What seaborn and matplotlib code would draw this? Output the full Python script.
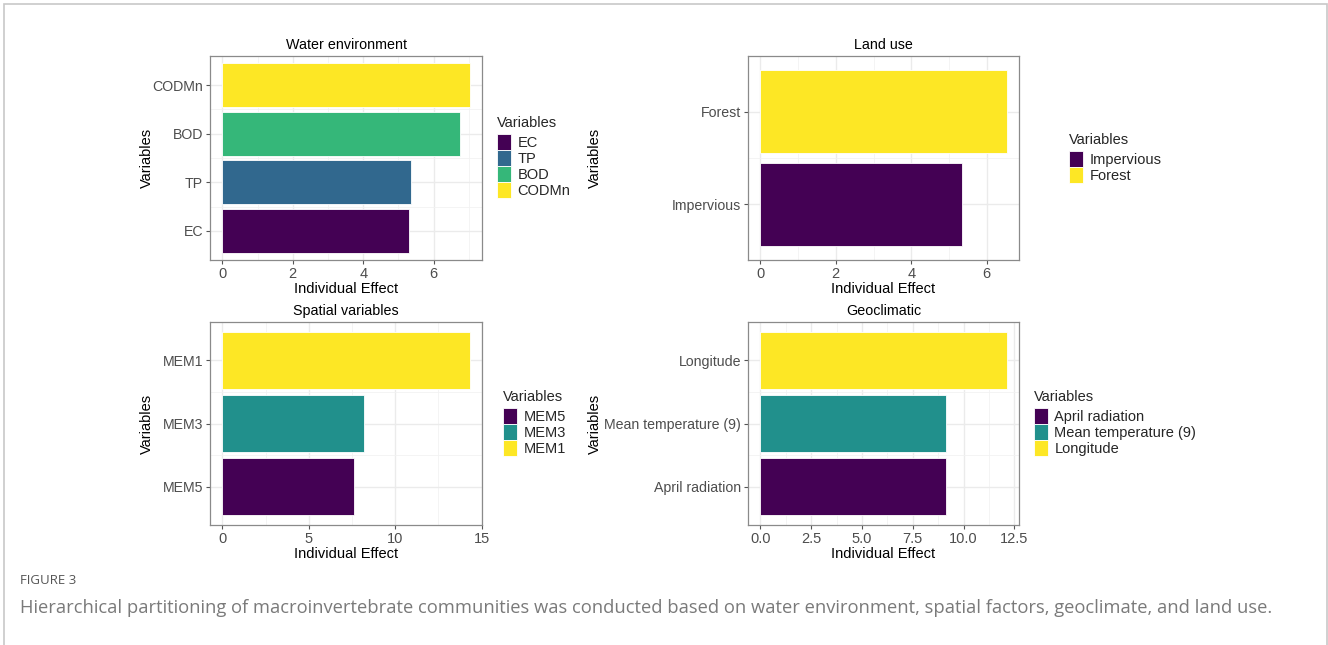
import numpy as np
import pandas as pd
import seaborn as sns
import matplotlib
matplotlib.use("Agg")
import matplotlib.pyplot as plt
from matplotlib.patches import Patch, Rectangle
from matplotlib.ticker import MultipleLocator, FormatStrFormatter

# Individual effects from hierarchical partitioning (legend order = factor order)
water_vars = ["EC", "TP", "BOD", "CODMn"]
water_effect = [5.29, 5.35, 6.74, 7.02]

land_vars = ["Impervious", "Forest"]
land_effect = [5.34, 6.53]

spatial_vars = ["MEM5", "MEM3", "MEM1"]
spatial_effect = [7.62, 8.19, 14.31]

geo_vars = ["April radiation", "Mean temperature (9)", "Longitude"]
geo_effect = [9.12, 9.15, 12.12]

VIRIDIS = {
    2: ["#440154", "#FDE725"],
    3: ["#440154", "#21908C", "#FDE725"],
    4: ["#440154", "#31688E", "#35B779", "#FDE725"],
}

sns.set_theme(style="white")
plt.rcParams["font.family"] = ["Liberation Sans", "DejaVu Sans"]

W, H = 1328, 645
fig = plt.figure(figsize=(W / 100, H / 100), dpi=100)

# Outer light frame
fig.patches.append(Rectangle((4 / W, -0.1), (1323 / W), (641 / H) + 0.1,
                             transform=fig.transFigure, fill=False,
                             edgecolor="#c8c8c8", linewidth=1.2))


def px_axes(left, top, right, bottom):
    return fig.add_axes([left / W, 1 - bottom / H, (right - left) / W, (bottom - top) / H])


def panel(ax, names, values, title, major, minor, fmt, ylab_x, leg_anchor):
    df = pd.DataFrame({"Variables": names, "Effect": values})
    colors = VIRIDIS[len(names)]
    pal = dict(zip(names, colors))
    sns.barplot(data=df, x="Effect", y="Variables", hue="Variables",
                order=names[::-1], hue_order=names, palette=pal,
                dodge=False, width=0.9, saturation=1, legend=False,
                edgecolor="white", linewidth=0.6, ax=ax)
    vmax = max(values)
    ax.set_xlim(-0.05 * vmax, vmax * 1.05)
    n = len(names)
    ax.set_ylim(n - 0.4, -0.6)
    ax.xaxis.set_major_locator(MultipleLocator(major))
    ax.xaxis.set_minor_locator(MultipleLocator(minor))
    ax.xaxis.set_major_formatter(FormatStrFormatter(fmt))
    ax.set_yticks(range(n))
    ax.set_yticks(np.arange(n - 1) + 0.5, minor=True)
    ax.set_axisbelow(True)
    ax.grid(which="major", color="#ebebeb", linewidth=1.0)
    ax.grid(which="minor", color="#f2f2f2", linewidth=0.6)
    for s in ax.spines.values():
        s.set_color("#8a8a8a")
        s.set_linewidth(0.9)
    ax.tick_params(axis="both", which="major", length=3, width=0.8,
                   color="#555555", labelcolor="#4D4D4D", labelsize=10.2,
                   direction="out", left=True, bottom=True, pad=2)
    ax.tick_params(axis="x", which="major", labelsize=10.5)
    ax.tick_params(axis="both", which="minor", length=0)
    ax.set_title(title, fontsize=10.3, color="black", pad=5)
    ax.set_xlabel("Individual Effect", fontsize=10.5, color="black", labelpad=1)
    ax.set_ylabel("Variables", fontsize=10.5, color="black")
    ax.yaxis.set_label_coords(ylab_x, 0.5)
    handles = [Patch(facecolor=c, edgecolor="white", linewidth=0.6) for c in colors]
    leg = ax.legend(handles, names, title="Variables", loc="upper left",
                    bbox_to_anchor=leg_anchor, bbox_transform=fig.transFigure,
                    frameon=False, fontsize=10.5, title_fontsize=10.5,
                    handlelength=0.95, handleheight=1.3, handletextpad=0.45,
                    labelspacing=0.0, borderpad=0, borderaxespad=0)
    leg._legend_box.align = "left"
    leg._legend_box.sep = 3


ax1 = px_axes(210, 56, 482, 260)
panel(ax1, water_vars, water_effect, "Water environment", 2, 1, "%g",
      (154 - 210) / 272, (497 / W, 1 - 116 / H))

ax2 = px_axes(748, 56, 1019, 260)
panel(ax2, land_vars, land_effect, "Land use", 2, 1, "%g",
      (602 - 748) / 271, (1069 / W, 1 - 133 / H))

ax3 = px_axes(210, 322, 482, 525)
panel(ax3, spatial_vars, spatial_effect, "Spatial variables", 5, 2.5, "%g",
      (154 - 210) / 272, (503 / W, 1 - 390 / H))

ax4 = px_axes(748, 322, 1019, 525)
panel(ax4, geo_vars, geo_effect, "Geoclimatic", 2.5, 1.25, "%.1f",
      (602 - 748) / 271, (1034 / W, 1 - 390 / H))

# Caption
fig.text(20 / W, 1 - 580 / H, "FIGURE 3", fontsize=9.5, color="#555555",
         family="Open Sans", va="center", ha="left")
fig.text(20 / W, 1 - 608 / H,
         "Hierarchical partitioning of macroinvertebrate communities was conducted based on water environment, spatial factors, geoclimate, and land use.",
         fontsize=13.2, color="#7a7a7a", family="Open Sans", va="center", ha="left")

fig.savefig("out.png", dpi=100)
